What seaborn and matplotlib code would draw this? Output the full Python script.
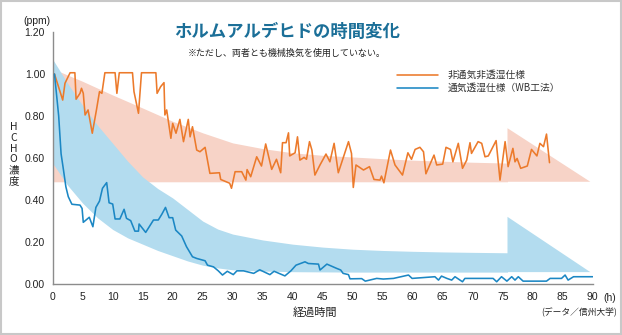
import numpy as np
import pandas as pd
import matplotlib
matplotlib.use("Agg")
import matplotlib.pyplot as plt
from matplotlib.patches import Rectangle
import seaborn as sns

# ---------------- data ----------------
orange_x = [0.3, 1.67, 2.05, 2.9, 3.7, 3.9, 4.55, 4.8, 5.1, 5.4, 5.9, 6.6, 7.3, 7.8, 8.2, 8.7,
            10.4, 10.7, 11.1, 13.3, 13.55, 14.3, 14.8, 17.2, 17.4, 18.0, 18.55, 18.7, 19.0, 19.7,
            20.0, 20.55, 21.2, 21.8, 22.6, 22.9, 23.3, 24.0, 24.55, 25.4, 26.2, 27.8, 28.0, 29.5,
            29.8, 30.4, 31.5, 32.2, 32.4, 33.0, 34.0, 34.8, 35.5, 36.5, 37.3, 38.0, 38.3, 38.9,
            39.3, 39.5, 40.4, 40.8, 41.2, 41.9, 42.3, 42.8, 43.2, 43.7, 44.55, 45.55, 46.2, 46.9,
            47.6, 48.2, 49.3, 49.8, 50.1, 50.55, 51.8, 52.8, 53.55, 54.55, 54.8, 55.2, 56.3, 57.05,
            58.3, 59.2, 59.8, 60.4, 61.2, 61.8, 62.2, 63.55, 64.0, 65.0, 65.55, 66.3, 66.7, 67.6,
            68.3, 69.0, 69.55, 69.8, 70.9, 71.5, 72.05, 72.6, 73.9, 74.55, 75.4, 75.9, 76.7, 77.05,
            77.4, 78.0, 79.1, 79.8, 80.7, 81.2, 81.8, 82.3, 82.8]
orange_y = [1.00, 0.876, 0.956, 1.006, 1.006, 0.88, 0.908, 0.932, 0.908, 0.805, 0.829, 0.718, 0.83,
            0.916, 0.908, 1.006, 1.006, 0.908, 1.006, 1.006, 0.916, 0.813, 1.006, 1.006, 0.908, 0.94,
            0.959, 0.805, 0.829, 0.694, 0.765, 0.718, 0.784, 0.678, 0.784, 0.701, 0.749, 0.638, 0.63,
            0.651, 0.527, 0.53, 0.498, 0.48, 0.456, 0.535, 0.535, 0.495, 0.545, 0.511, 0.606, 0.562,
            0.667, 0.546, 0.594, 0.53, 0.673, 0.673, 0.72, 0.61, 0.625, 0.701, 0.59, 0.603, 0.594,
            0.678, 0.638, 0.519, 0.567, 0.619, 0.582, 0.67, 0.53, 0.582, 0.678, 0.622, 0.46, 0.567,
            0.543, 0.559, 0.498, 0.495, 0.514, 0.482, 0.638, 0.567, 0.519, 0.625, 0.594, 0.641,
            0.651, 0.63, 0.525, 0.614, 0.567, 0.571, 0.651, 0.641, 0.582, 0.67, 0.551, 0.59, 0.673,
            0.622, 0.678, 0.67, 0.606, 0.61, 0.683, 0.495, 0.678, 0.559, 0.646, 0.582, 0.598, 0.551,
            0.562, 0.641, 0.61, 0.67, 0.654, 0.714, 0.578]

blue_x = [0.3, 1.0, 1.4, 1.8, 2.2, 2.6, 3.2, 4.55, 4.9, 5.1, 6.1, 6.7, 7.2, 7.8, 8.3, 9.0, 9.4,
          10.0, 10.4, 11.2, 11.9, 12.3, 13.0, 13.7, 14.3, 14.4, 15.5, 16.8, 17.6, 18.2, 18.8, 19.4,
          20.0, 20.5, 21.5, 22.3, 23.3, 24.0, 25.4, 25.8, 26.8, 27.6, 28.3, 29.1, 30.1, 30.7, 31.8,
          33.5, 34.5, 36.2, 36.9, 38.7, 39.7, 40.55, 42.05, 42.6, 44.3, 44.55, 45.7, 47.3, 48.0,
          48.4, 49.3, 49.55, 51.5, 52.1, 54.0, 55.1, 56.8, 59.3, 59.9, 63.7, 64.3, 64.8, 65.7,
          66.5, 67.05, 68.3, 68.7, 73.4, 74.0, 74.8, 75.7, 76.5, 77.05, 77.6, 78.4, 82.3, 82.9,
          84.8, 85.4, 85.9, 86.8, 90.0]
blue_y = [1.00, 0.80, 0.62, 0.543, 0.463, 0.416, 0.38, 0.376, 0.36, 0.294, 0.318, 0.273, 0.365,
          0.395, 0.456, 0.483, 0.387, 0.381, 0.31, 0.31, 0.356, 0.313, 0.302, 0.252, 0.252, 0.286,
          0.246, 0.305, 0.305, 0.333, 0.365, 0.316, 0.316, 0.257, 0.229, 0.178, 0.13, 0.122, 0.111,
          0.09, 0.082, 0.063, 0.043, 0.061, 0.045, 0.063, 0.063, 0.051, 0.068, 0.045, 0.061, 0.039,
          0.063, 0.09, 0.106, 0.098, 0.095, 0.067, 0.095, 0.075, 0.067, 0.051, 0.045, 0.025, 0.026,
          0.014, 0.027, 0.024, 0.027, 0.043, 0.027, 0.035, 0.019, 0.038, 0.027, 0.019, 0.035, 0.011,
          0.027, 0.027, 0.011, 0.035, 0.014, 0.035, 0.019, 0.035, 0.014, 0.014, 0.027, 0.027, 0.043,
          0.019, 0.035, 0.035]

# decorative trend bands (edges)
pink_band_x = [0, 5, 10, 15, 20, 25, 30, 35, 40, 45, 50, 55, 60, 65, 70, 75.8]
pink_band_upper = [1.025, 0.965, 0.90, 0.838, 0.775, 0.72, 0.672, 0.645, 0.625, 0.613, 0.605,
                   0.597, 0.59, 0.585, 0.58, 0.576]
pink_band_lower = [0.487] * len(pink_band_x)
pink_head_x = [75.8, 75.8, 89.6]
pink_head_y = [0.487, 0.742, 0.487]

blue_band_x = [0, 2.5, 5, 7.5, 10, 12.5, 15, 17.5, 20, 22.5, 25, 27.5, 30, 35, 40, 45, 50, 55,
               60, 65, 70, 75.8]
blue_band_upper = [1.07, 0.955, 0.85, 0.755, 0.67, 0.585, 0.51, 0.455, 0.41, 0.355, 0.30, 0.262,
                   0.238, 0.21, 0.19, 0.176, 0.166, 0.16, 0.156, 0.153, 0.151, 0.149]
blue_band_lower = [0.575, 0.47, 0.385, 0.315, 0.26, 0.22, 0.19, 0.16, 0.135, 0.11, 0.09, 0.077,
                   0.068, 0.062, 0.059, 0.058, 0.057, 0.057, 0.057, 0.057, 0.057, 0.057]
blue_head_x = [75.8, 75.8, 89.6]
blue_head_y = [0.057, 0.32, 0.057]

x_ticks = list(range(0, 91, 5))
y_ticks = [0.0, 0.2, 0.4, 0.6, 0.8, 1.0, 1.2]

series_names = ["非通気非透湿仕様", "通気透湿仕様（WB工法）"]

# ---------------- style ----------------
sns.set_style("white")
JP = ["Noto Sans CJK JP", "DejaVu Sans"]
LAT = ["Liberation Sans", "Noto Sans CJK JP"]
plt.rcParams["font.family"] = JP

ORANGE = "#ec7a2b"
BLUE = "#1b87c4"
PINK_FILL = "#f7d3c7"
BLUE_FILL = "#b3dcef"
TITLE_C = "#1b6f98"
AXIS_C = "#8c8c8c"

fig = plt.figure(figsize=(6.22, 3.35), dpi=100)
ax = fig.add_axes([0.0847, 0.152, 0.8682, 0.7525])

# bands
ax.fill_between(pink_band_x, pink_band_lower, pink_band_upper, color=PINK_FILL, lw=0, zorder=1)
ax.fill(pink_head_x, pink_head_y, color=PINK_FILL, lw=0, zorder=1)
ax.fill_between(blue_band_x, blue_band_lower, blue_band_upper, color=BLUE_FILL, lw=0, zorder=2)
ax.fill(blue_head_x, blue_head_y, color=BLUE_FILL, lw=0, zorder=2)

df_o = pd.DataFrame({"t": orange_x, "v": orange_y})
df_b = pd.DataFrame({"t": blue_x, "v": blue_y})
sns.lineplot(data=df_o, x="t", y="v", ax=ax, color=ORANGE, lw=1.15, estimator=None,
             sort=False, label=series_names[0], zorder=4)
sns.lineplot(data=df_b, x="t", y="v", ax=ax, color=BLUE, lw=1.15, estimator=None,
             sort=False, label=series_names[1], zorder=4)

ax.set_xlim(0, 90)
ax.set_ylim(0, 1.2)
ax.set_xticks(x_ticks)
ax.set_yticks(y_ticks)
ax.set_xticklabels([str(v) for v in x_ticks], fontfamily=LAT, fontsize=7.5, color="#222222")
ax.set_yticklabels([f"{v:.2f}" for v in y_ticks], fontfamily=LAT, fontsize=7.5, color="#222222")
ax.set_xlabel("")
ax.set_ylabel("")
for s in ["top", "right"]:
    ax.spines[s].set_visible(False)
for s in ["left", "bottom"]:
    ax.spines[s].set_color(AXIS_C)
    ax.spines[s].set_linewidth(1.0)
ax.tick_params(axis="x", direction="out", length=3, width=0.8, color=AXIS_C, pad=3)
ax.tick_params(axis="y", direction="out", length=2.5, width=0.8, color=AXIS_C, pad=3)

leg = ax.legend(loc="upper left", bbox_to_anchor=(397 / 622, 1 - 70 / 335),
                bbox_transform=fig.transFigure, frameon=False, fontsize=7,
                handlelength=4.2, handletextpad=1.0, borderpad=0, borderaxespad=0,
                labelspacing=0.3)
for t in leg.get_texts():
    t.set_color("#333333")

# texts
fig.text(0.461, 0.904, "ホルムアルデヒドの時間変化", ha="center", va="center",
         fontsize=12.5, fontweight="bold", color=TITLE_C)
fig.text(0.461, 0.842, "※ただし、両者とも機械換気を使用していない。", ha="center", va="center",
         fontsize=6.5, color="#222222")
fig.text(0.0595, 0.937, "(ppm)", ha="center", va="center", fontsize=7.5,
         family=LAT, color="#222222")
fig.text(0.022, 0.54, "H\nC\nH\nO\n濃\n度", ha="center", va="center", fontsize=7.5,
         linespacing=1.08, color="#222222")
fig.text(0.506, 0.066, "経過時間", ha="center", va="center", fontsize=8, color="#222222")
fig.text(0.9695, 0.110, "(h)", ha="left", va="center", fontsize=7.5, family=LAT, color="#222222")
fig.text(0.992, 0.066, "(データ／信州大学)", ha="right", va="center", fontsize=6.3, color="#222222")

fig.patches.append(Rectangle((0.002, 0.003), 0.996, 0.994, transform=fig.transFigure,
                             fill=False, edgecolor="#c8c8c8", lw=1.5))

fig.savefig("out.png", dpi=100, facecolor="white")
